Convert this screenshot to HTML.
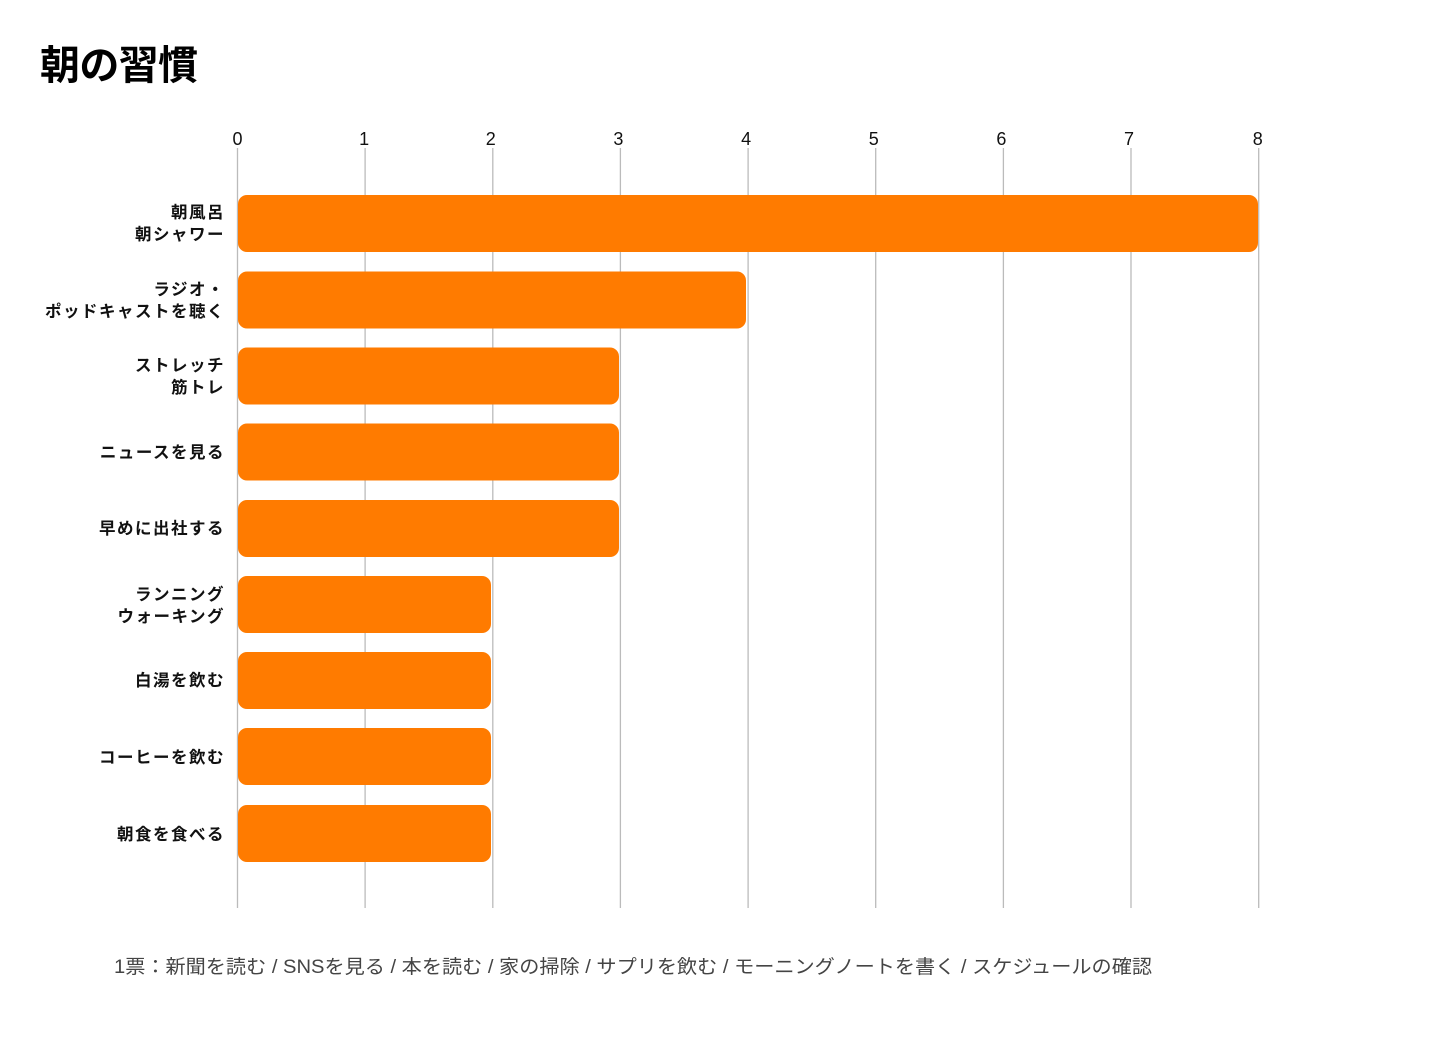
<!DOCTYPE html>
<html><head><meta charset="utf-8"><style>
html,body{margin:0;padding:0;background:#fff;}
svg{display:block;}
text{font-family:"Liberation Sans","Noto Sans CJK JP",sans-serif;}
</style></head><body>
<svg width="1440" height="1059" viewBox="0 0 1440 1059" xmlns="http://www.w3.org/2000/svg">
<text x="40" y="79" font-size="40" font-weight="bold" fill="#000" textLength="158">朝の習慣</text>
<g stroke="#bbb" stroke-width="1.3">
<line x1="237.5" y1="148" x2="237.5" y2="908"/>
<line x1="365.1" y1="148" x2="365.1" y2="908"/>
<line x1="492.8" y1="148" x2="492.8" y2="908"/>
<line x1="620.4" y1="148" x2="620.4" y2="908"/>
<line x1="748.1" y1="148" x2="748.1" y2="908"/>
<line x1="875.7" y1="148" x2="875.7" y2="908"/>
<line x1="1003.4" y1="148" x2="1003.4" y2="908"/>
<line x1="1131" y1="148" x2="1131" y2="908"/>
<line x1="1258.7" y1="148" x2="1258.7" y2="908"/>
</g>
<g font-size="18" fill="#111" text-anchor="middle">
<text x="237.5" y="145">0</text><text x="364.1" y="145">1</text><text x="490.8" y="145">2</text>
<text x="618.4" y="145">3</text><text x="746.1" y="145">4</text><text x="873.7" y="145">5</text>
<text x="1001.4" y="145">6</text><text x="1129" y="145">7</text><text x="1257.7" y="145">8</text>
</g>
<g fill="#FF7B00">
<rect x="238" y="195" width="1020" height="57" rx="9"/>
<rect x="238" y="271.5" width="508" height="57" rx="9"/>
<rect x="238" y="347.5" width="381" height="57" rx="9"/>
<rect x="238" y="423.5" width="381" height="57" rx="9"/>
<rect x="238" y="500" width="381" height="57" rx="9"/>
<rect x="238" y="576" width="253" height="57" rx="9"/>
<rect x="238" y="652" width="253" height="57" rx="9"/>
<rect x="238" y="728" width="253" height="57" rx="9"/>
<rect x="238" y="805" width="253" height="57" rx="9"/>
</g>
<g font-size="16.5" font-weight="bold" fill="#111" text-anchor="end" letter-spacing="1.5">
<text x="225" y="218">朝風呂</text><text x="225" y="240">朝シャワー</text>
<text x="225" y="295">ラジオ・</text><text x="225" y="317">ポッドキャストを聴く</text>
<text x="225" y="371">ストレッチ</text><text x="225" y="393">筋トレ</text>
<text x="225" y="458">ニュースを見る</text>
<text x="225" y="534">早めに出社する</text>
<text x="225" y="600">ランニング</text><text x="225" y="622">ウォーキング</text>
<text x="225" y="686">白湯を飲む</text>
<text x="225" y="763">コーヒーを飲む</text>
<text x="225" y="840">朝食を食べる</text>
</g>
<text x="114" y="973" font-size="19" fill="#444" textLength="1038" lengthAdjust="spacingAndGlyphs">1票：新聞を読む / SNSを見る / 本を読む / 家の掃除 / サプリを飲む / モーニングノートを書く / スケジュールの確認</text>
</svg>
</body></html>
